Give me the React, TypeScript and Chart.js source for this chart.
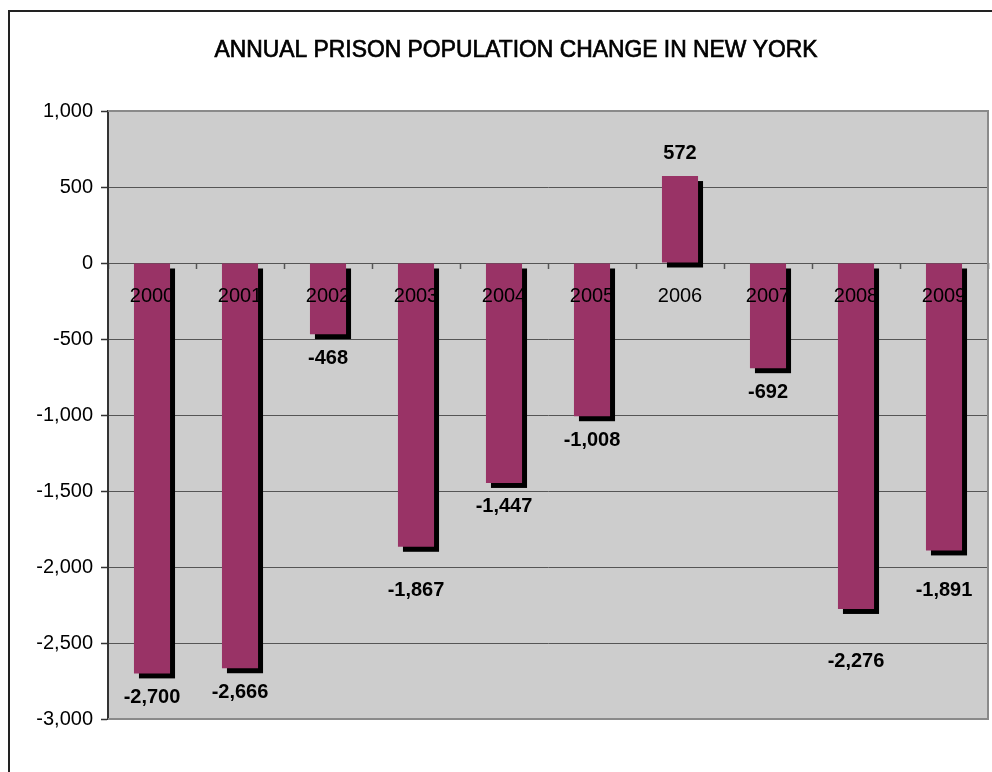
import React, { useEffect, useRef } from "react";
import { Chart, registerables } from "chart.js";

Chart.register(...registerables);

const title = "ANNUAL PRISON POPULATION CHANGE IN NEW YORK";
const years = ["2000", "2001", "2002", "2003", "2004", "2005", "2006", "2007", "2008", "2009"];
const changes = [-2700, -2666, -468, -1867, -1447, -1008, 572, -692, -2276, -1891];
// distance (px) from bar end to the centre of its value label
const labelGap = [24, 24, 24, 44, 24, 24, 23, 24, 53, 40];
const yMin = -3000;
const yMax = 1000;
const yStep = 500;

const W = 992;
const H = 772;
const fmt = (v: number) => Math.round(v).toLocaleString("en-US");

const customPlugin = {
  id: "custom",
  beforeDraw(chart: any) {
    const { ctx, chartArea: a } = chart;
    ctx.save();
    ctx.fillStyle = "#ffffff";
    ctx.fillRect(0, 0, chart.width, chart.height);
    ctx.fillStyle = "#cdcdcd";
    ctx.fillRect(a.left, a.top, a.right - a.left, a.bottom - a.top);
    ctx.restore();
  },
  beforeDatasetsDraw(chart: any) {
    const { ctx, chartArea: a } = chart;
    ctx.save();
    // plot border (top, right, bottom)
    ctx.strokeStyle = "#8a8a8a";
    ctx.lineWidth = 2;
    ctx.beginPath();
    ctx.moveTo(a.left, a.top);
    ctx.lineTo(a.right, a.top);
    ctx.lineTo(a.right, a.bottom);
    ctx.lineTo(a.left, a.bottom);
    ctx.stroke();
    // bar shadows
    const meta = chart.getDatasetMeta(0);
    ctx.fillStyle = "#000000";
    meta.data.forEach((el: any) => {
      const p = el.getProps(["x", "y", "base", "width"], true);
      const top = Math.min(p.y, p.base);
      const bot = Math.max(p.y, p.base);
      ctx.fillRect(p.x - p.width / 2 + 5, top + 5, p.width, bot - top);
    });
    ctx.restore();
  },
  afterDatasetsDraw(chart: any) {
    const { ctx } = chart;
    const meta = chart.getDatasetMeta(0);
    ctx.save();
    ctx.fillStyle = "#000000";
    ctx.font = 'bold 20px "Liberation Sans", Arial, sans-serif';
    ctx.textAlign = "center";
    ctx.textBaseline = "middle";
    meta.data.forEach((el: any, i: number) => {
      const p = el.getProps(["x", "y", "base"], true);
      const v = changes[i];
      const y = v < 0 ? p.y + labelGap[i] : p.y - labelGap[i];
      ctx.fillText(fmt(v), p.x, y);
    });
    ctx.restore();
  },
  afterDraw(chart: any) {
    const { ctx } = chart;
    ctx.save();
    // title, condensed
    ctx.fillStyle = "#000000";
    ctx.strokeStyle = "#000000";
    ctx.lineWidth = 0.7;
    ctx.font = '24px "Liberation Sans", Arial, sans-serif';
    ctx.textAlign = "center";
    ctx.textBaseline = "middle";
    const m = ctx.measureText(title).width;
    ctx.translate(516, 50);
    ctx.scale(603 / m, 1);
    ctx.fillText(title, 0, 0);
    ctx.strokeText(title, 0, 0);
    ctx.restore();
    // outer frame
    ctx.save();
    ctx.fillStyle = "#222222";
    ctx.fillRect(8, 10, 2, chart.height);
    ctx.fillRect(8, 10, chart.width, 2);
    ctx.restore();
  },
};

export default function App() {
  const ref = useRef<HTMLCanvasElement | null>(null);

  useEffect(() => {
    if (!ref.current) return;
    const chart = new Chart(ref.current, {
      type: "bar",
      data: {
        labels: years,
        datasets: [
          {
            data: changes,
            backgroundColor: "#993366",
            borderWidth: 0,
            barPercentage: 0.41,
            categoryPercentage: 1,
          },
        ],
      },
      options: {
        responsive: false,
        animation: false,
        devicePixelRatio: 1,
        layout: { padding: { top: 111, left: 0, right: 4, bottom: 53 } },
        plugins: {
          legend: { display: false },
          title: { display: false },
          tooltip: { enabled: false },
        },
        scales: {
          x: {
            type: "category",
            position: { y: 0 } as any,
            offset: true,
            grid: {
              display: true,
              drawOnChartArea: false,
              drawTicks: true,
              tickLength: 6,
              tickColor: "#555555",
              tickWidth: 1.5,
              offset: true,
              z: 0,
            },
            border: { display: false },
            ticks: {
              z: 2,
              color: "#000000",
              padding: 15,
              maxRotation: 0,
              autoSkip: false,
              font: { family: '"Liberation Sans", Arial, sans-serif', size: 20 },
            },
          },
          y: {
            min: yMin,
            max: yMax,
            afterFit(scale: any) {
              scale.width = 108;
            },
            grid: {
              color: "#555555",
              lineWidth: 1,
              tickLength: 7,
              tickColor: "#333333",
              tickWidth: 1.5,
            },
            border: { display: true, color: "#333333", width: 2 },
            ticks: {
              stepSize: yStep,
              color: "#000000",
              padding: 8,
              callback: (v: any) => fmt(Number(v)),
              font: { family: '"Liberation Sans", Arial, sans-serif', size: 20 },
            },
          },
        },
      },
      plugins: [customPlugin],
    });
    return () => chart.destroy();
  }, []);

  return (
    <div style={{ position: "absolute", left: 0, top: 0, width: W, height: H }}>
      <canvas ref={ref} width={W} height={H} style={{ display: "block", width: W, height: H }} />
    </div>
  );
}
